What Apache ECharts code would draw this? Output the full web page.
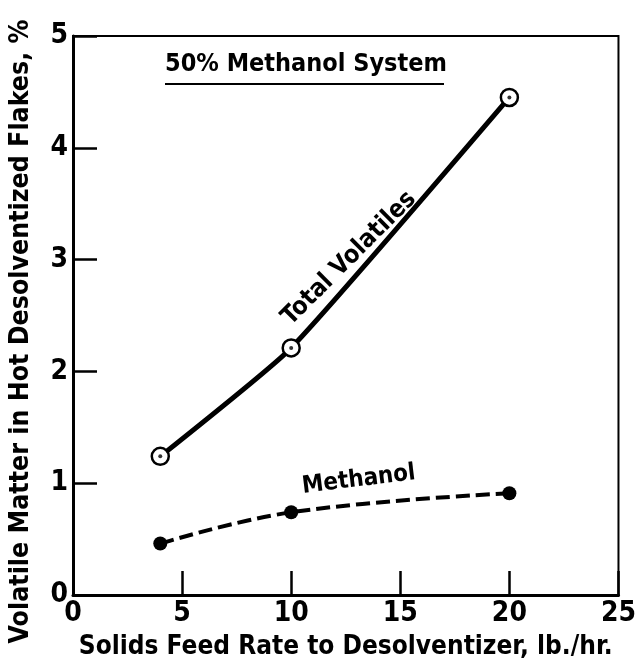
<!DOCTYPE html>
<html>
<head>
<meta charset="utf-8">
<script src="https://cdn.jsdelivr.net/npm/echarts@6/dist/echarts.min.js"></script>
<style>
  html, body { margin: 0; padding: 0; background: #fff; }
  #chart { width: 639px; height: 667px; }
</style>
</head>
<body>
<div id="chart"></div>
<script>
// feed rate, lb./hr.
var feedRate = [4, 10, 20];
// volatile matter, %
var totalVolatiles = [1.24, 2.21, 4.45];
var methanol = [0.46, 0.74, 0.91];

var FONT = '"Liberation Sans Narrow", "DejaVu Sans Condensed", sans-serif';

function pairs(xs, ys) {
  var out = [];
  for (var i = 0; i < xs.length; i++) out.push([xs[i], ys[i]]);
  return out;
}

var myChart = echarts.init(document.getElementById('chart'));

var option = {
  backgroundColor: '#fff',
  animation: false,
  grid: {
    left: 72, right: 14, top: 36, bottom: 72,
    show: true, borderColor: '#000', borderWidth: 2
  },
  xAxis: {
    type: 'value',
    min: 0, max: 25, interval: 5,
    name: 'Solids Feed Rate to Desolventizer, lb./hr.',
    nameLocation: 'middle',
    nameGap: 39,
    nameTextStyle: { fontFamily: FONT, fontWeight: 'bold', fontSize: 26, color: '#000' },
    axisLine: { lineStyle: { color: '#000', width: 3 } },
    axisTick: { inside: true, length: 24, lineStyle: { color: '#000', width: 2.5 } },
    axisLabel: { fontFamily: FONT, fontWeight: 'bold', fontSize: 28, color: '#000', margin: 5 },
    splitLine: { show: false }
  },
  yAxis: {
    type: 'value',
    min: 0, max: 5, interval: 1,
    name: 'Volatile Matter in Hot Desolventized Flakes, %',
    nameLocation: 'middle',
    nameGap: 38,
    nameTextStyle: { fontFamily: FONT, fontWeight: 'bold', fontSize: 26.5, color: '#000', padding: [0, 32, 0, 0] },
    axisLine: { lineStyle: { color: '#000', width: 3 } },
    axisTick: { inside: true, length: 24, lineStyle: { color: '#000', width: 2.5 } },
    axisLabel: { fontFamily: FONT, fontWeight: 'bold', fontSize: 28, color: '#000', margin: 5 },
    splitLine: { show: false }
  },
  series: [
    {
      name: 'Total Volatiles',
      type: 'line',
      data: pairs(feedRate, totalVolatiles),
      smooth: 0.15,
      lineStyle: { color: '#000', width: 5 },
      symbol: 'circle',
      symbolSize: 17,
      itemStyle: { color: '#fff', borderColor: '#000', borderWidth: 2.5 },
      z: 3
    },
    {
      name: 'Total Volatiles centre',
      type: 'scatter',
      data: pairs(feedRate, totalVolatiles),
      symbol: 'circle',
      symbolSize: 4,
      itemStyle: { color: '#000' },
      z: 5
    },
    {
      name: 'Methanol',
      type: 'line',
      data: pairs(feedRate, methanol),
      smooth: 0.4,
      lineStyle: { color: '#000', width: 4, type: [14, 6] },
      symbol: 'circle',
      symbolSize: 14,
      itemStyle: { color: '#000' },
      z: 3
    }
  ]
};

myChart.setOption(option);

// annotations placed relative to data coordinates
var tvPos = myChart.convertToPixel({ gridIndex: 0 }, [12.66, 3.01]);
var mePos = myChart.convertToPixel({ gridIndex: 0 }, [13.1, 1.03]);

myChart.setOption({
  graphic: [
    {
      type: 'text',
      left: 165, top: 52,
      style: { text: '50% Methanol System', fontFamily: FONT, fontWeight: 'bold', fontSize: 25, fill: '#000' }
    },
    {
      type: 'line',
      shape: { x1: 165, y1: 84, x2: 444, y2: 84 },
      style: { stroke: '#000', lineWidth: 2 }
    },
    {
      type: 'text',
      x: tvPos[0], y: tvPos[1],
      rotation: 45 * Math.PI / 180,
      style: { text: 'Total Volatiles', fontFamily: FONT, fontWeight: 'bold', fontSize: 25, fill: '#000', align: 'center', verticalAlign: 'middle' }
    },
    {
      type: 'text',
      x: mePos[0], y: mePos[1],
      rotation: 7 * Math.PI / 180,
      style: { text: 'Methanol', fontFamily: FONT, fontWeight: 'bold', fontSize: 24, fill: '#000', align: 'center', verticalAlign: 'middle' }
    }
  ]
});
</script>
</body>
</html>
